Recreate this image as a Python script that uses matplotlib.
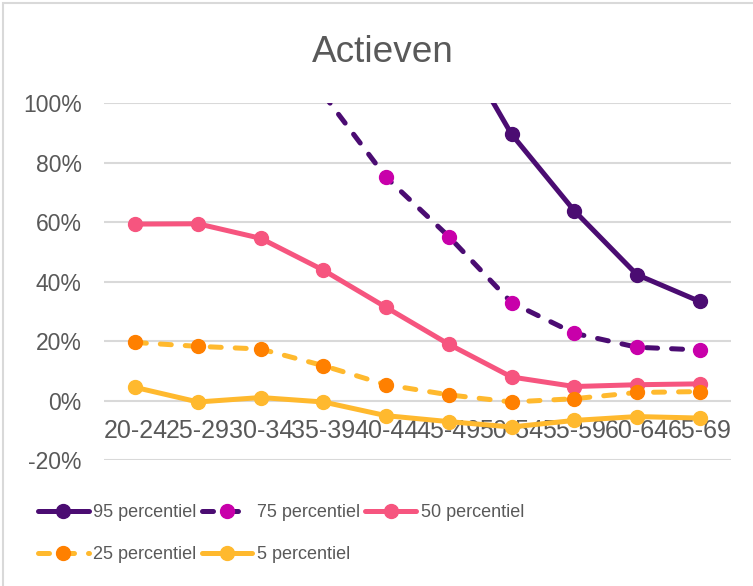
import numpy as np
import matplotlib.pyplot as plt
from matplotlib.patches import Rectangle

plt.rcParams['font.family'] = ['Liberation Sans', 'DejaVu Sans']

# age groups and percentile values (as fractions), nan where not known
groups = ['20-24', '25-29', '30-34', '35-39', '40-44',
          '45-49', '50-54', '55-59', '60-64', '65-69']
p95 = [np.nan, np.nan, np.nan, np.nan, np.nan, 1.26, 0.896, 0.639, 0.424, 0.334]
p75 = [np.nan, np.nan, np.nan, 1.03, 0.751, 0.552, 0.330, 0.227, 0.180, 0.171]
p50 = [0.594, 0.595, 0.546, 0.439, 0.314, 0.190, 0.080, 0.048, 0.054, 0.057]
p25 = [0.196, 0.183, 0.174, 0.118, 0.054, 0.020, -0.004, 0.007, 0.028, 0.031]
p5 = [0.045, -0.004, 0.011, -0.004, -0.050, -0.070, -0.088, -0.066, -0.053, -0.058]

yticks = [-0.2, 0.0, 0.2, 0.4, 0.6, 0.8, 1.0]

purple = '#4B0C72'
magenta = '#C800AA'
pink = '#F6557F'
orange = '#FF8000'
yellow = '#FFB92E'
text_col = '#595959'

fig = plt.figure(figsize=(7.53, 5.86), dpi=100)
ax = fig.add_axes([104 / 753, 1 - 460.3 / 586, 627 / 753, 357 / 586])

# chart frame
fig.patches.append(Rectangle((3 / 753, -0.1), 1.2, 1.1 - 3 / 586,
                             transform=fig.transFigure, fill=False,
                             edgecolor='#D9D9D9', linewidth=1.5))

x = np.arange(len(groups))
lw = 3.6
ms = 10
dash = (0, (2.2, 2.8))

l95, = ax.plot(x, p95, color=purple, lw=lw, marker='o', ms=ms,
               label='95 percentiel')
l75, = ax.plot(x, p75, color=purple, lw=lw, ls=dash, marker='o', ms=ms,
               mfc=magenta, mec=magenta, label='75 percentiel')
l50, = ax.plot(x, p50, color=pink, lw=lw, marker='o', ms=ms,
               label='50 percentiel')
l25, = ax.plot(x, p25, color=yellow, lw=lw, ls=dash, marker='o', ms=ms,
               mfc=orange, mec=orange, label='25 percentiel')
l5, = ax.plot(x, p5, color=yellow, lw=lw, marker='o', ms=ms,
              label='5 percentiel')
for ln in (l75, l25):
    ln.set_dash_capstyle('round')
for ln in (l95, l75, l50, l25, l5):
    ln.set_solid_capstyle('round')

ax.set_xlim(-0.5, len(groups) - 0.5)
ax.set_ylim(-0.2, 1.0)
ax.set_yticks(yticks)
ax.set_yticklabels([f'{int(round(v * 100))}%' for v in yticks])
ax.set_xticks(x)
ax.set_xticklabels(groups)

ax.grid(axis='y', color='#D9D9D9', linewidth=1.5)
ax.set_axisbelow(True)
for s in ax.spines.values():
    s.set_visible(False)
ax.spines['bottom'].set_position(('data', 0))
ax.tick_params(axis='both', length=0, colors=text_col)
ax.tick_params(axis='y', pad=16, labelsize=16.5)
ax.tick_params(axis='x', pad=13, labelsize=18)

fig.text(382.5 / 753, 1 - 61.7 / 586, 'Actieven', ha='center', va='baseline',
         fontsize=26.6, color=text_col)

handles = [l95, l25, l75, l5, l50]
leg = fig.legend(handles=handles, labels=[h.get_label() for h in handles],
                 ncol=3, loc='upper left',
                 bbox_to_anchor=(38 / 753, 1 - 504 / 586),
                 frameon=False, numpoints=1, handlelength=2.8,
                 handletextpad=0.25, columnspacing=0.3, labelspacing=1.4,
                 borderaxespad=0, borderpad=0,
                 prop={'size': 13})
for t in leg.get_texts():
    t.set_color(text_col)

fig.savefig('out.png', dpi=100)
